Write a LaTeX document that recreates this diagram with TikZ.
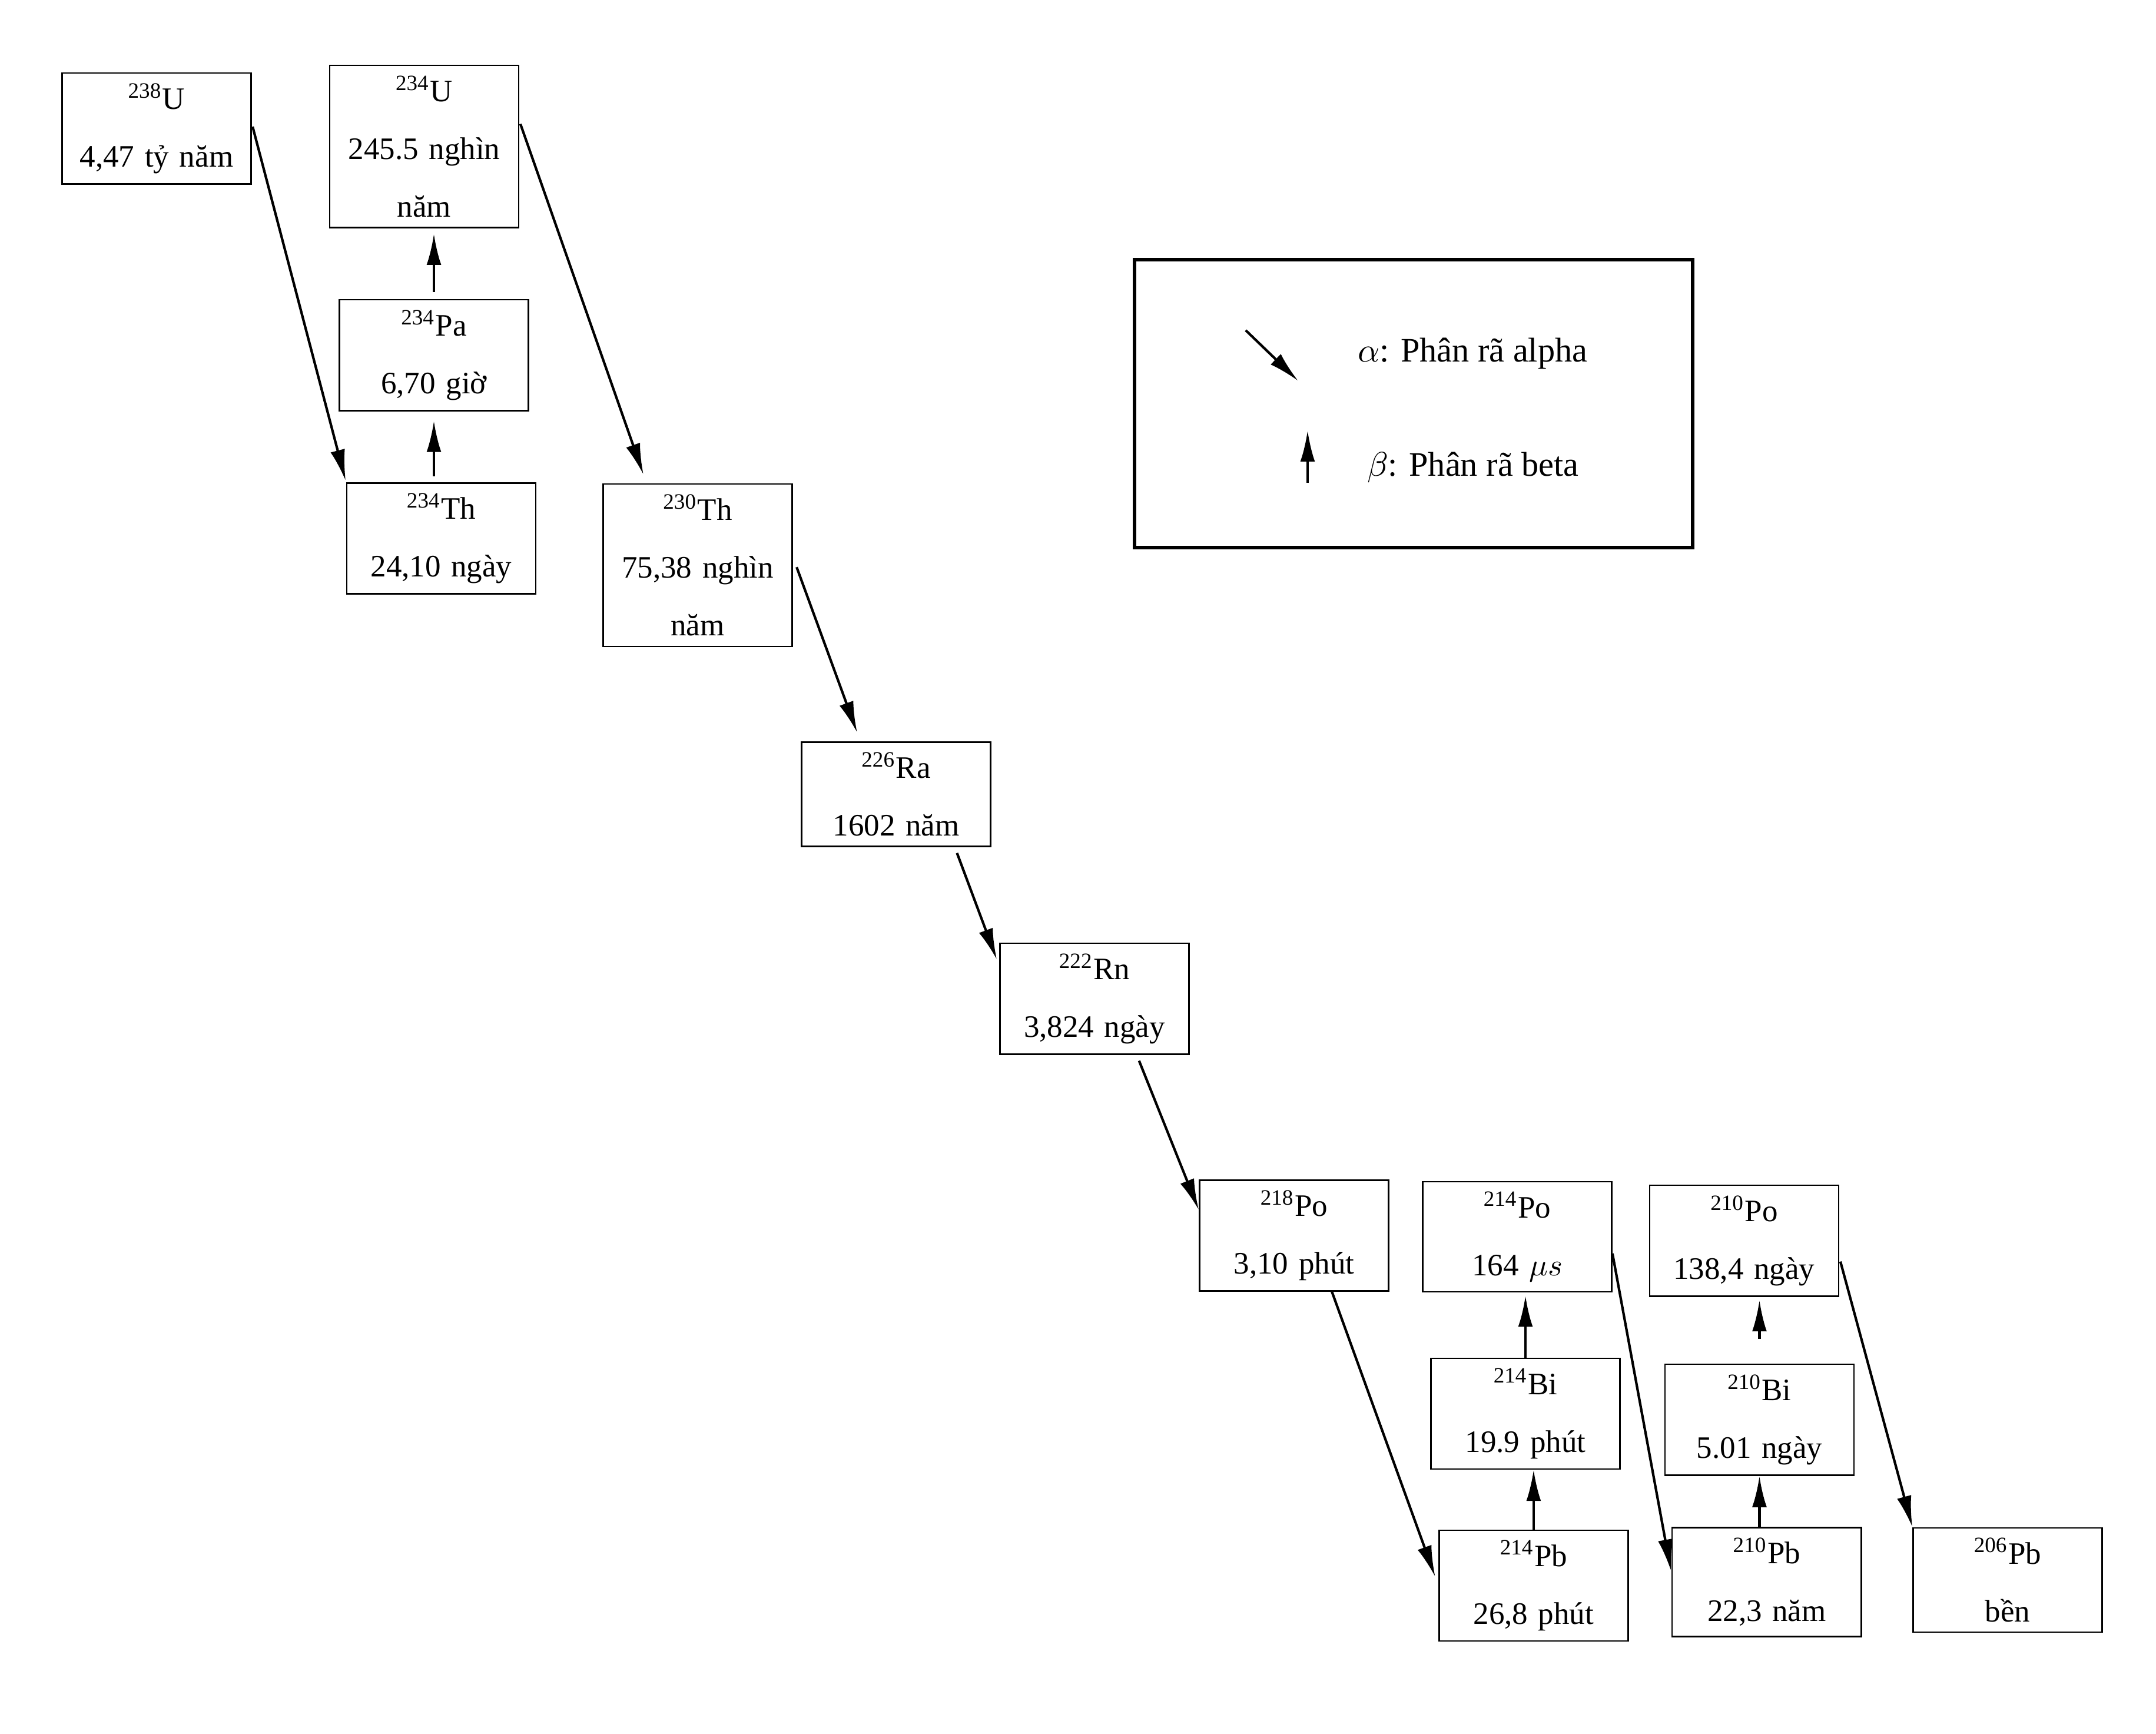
\documentclass[tikz,border=0pt]{standalone}
\usepackage{fontspec}
\setmainfont{Liberation Serif}
\usetikzlibrary{arrows.meta}

\begin{document}
\begin{tikzpicture}[>={Latex[length=10pt,width=4.7pt]},
    nuclide/.style={draw, line width=0.45pt, align=center, text width=58pt, inner xsep=1.3pt, inner ysep=3.3pt, font=\fontsize{10}{18.5}\selectfont},
    decay/.style={->, line width=0.8pt},
    legendbox/.style={draw, line width=1pt, minimum width=6.287cm, minimum height=3.243cm, inner sep=0pt, outer sep=0pt},
    legendtext/.style={anchor=west, inner sep=0pt, font=\fontsize{11}{13}\selectfont}]
    \useasboundingbox (0,0) rectangle (24.287,-19.531);
    % Nodes (uranium series)
    \node[nuclide] (U238) at (1.764,-1.449) {\textsuperscript{238}U\\4,47 tỷ năm};
    \node[nuclide] (U234) at (4.778,-1.651) {\textsuperscript{234}U\\245.5 nghìn\\năm};
    \node[nuclide] (Pa234) at (4.888,-4.002) {\textsuperscript{234}Pa\\6,70 giờ};
    \node[nuclide] (Th234) at (4.971,-6.065) {\textsuperscript{234}Th\\24,10 ngày};
    \node[nuclide] (Th230) at (7.859,-6.367) {\textsuperscript{230}Th\\75,38 nghìn\\năm};
    \node[nuclide] (Ra226) at (10.094,-8.947) {\textsuperscript{226}Ra\\1602 năm};
    \node[nuclide] (Rn222) at (12.329,-11.251) {\textsuperscript{222}Rn\\3,824 ngày};
    \node[nuclide] (Po218) at (14.577,-13.917) {\textsuperscript{218}Po\\3,10 phút};
    \node[nuclide] (Po214) at (17.091,-13.930) {\textsuperscript{214}Po\\164 $\mu s$};
    \node[nuclide] (Po210) at (19.647,-13.977) {\textsuperscript{210}Po\\138,4 ngày};
    \node[nuclide] (Bi214) at (17.184,-15.923) {\textsuperscript{214}Bi\\19.9 phút};
    \node[nuclide] (Bi210) at (19.820,-15.993) {\textsuperscript{210}Bi\\5.01 ngày};
    \node[nuclide] (Pb214) at (17.276,-17.860) {\textsuperscript{214}Pb\\26,8 phút};
    \node[nuclide] (Pb210) at (19.902,-17.820) {\textsuperscript{210}Pb\\22,3 năm};
    \node[nuclide] (Pb206) at (22.615,-17.797) {\textsuperscript{206}Pb\\bền};
    % Legend
    \node[legendbox] (legend) at (15.923,-4.546) {};
    \coordinate (la1) at (14.033,-3.721);
    \coordinate (la2) at (14.624,-4.291);
    \coordinate (lb1) at (14.730,-5.438);
    \coordinate (lb2) at (14.730,-4.848);
    \draw[decay] (la1) -- (la2);
    \draw[decay] (lb1) -- (lb2);
    \node[legendtext] (alphatext) at (15.287,-3.979) {$\alpha$: Phân rã alpha};
    \node[legendtext] (betatext) at (15.393,-5.266) {$\beta$: Phân rã beta};
    % Alpha decays
    \draw[decay, shorten <=1pt, shorten >=0.5pt] (U238.3) -- (Th234.north west);
    \draw[decay, shorten <=1pt, shorten >=3pt] (U234.15) -- (Th230.122);
    \draw[decay, shorten <=3.5pt, shorten >=3pt] (Th230.5) -- (Ra226.124);
    \draw[decay, shorten <=2pt, shorten >=2.2pt] (Ra226.-42) -- (Rn222.161);
    \draw[decay, shorten <=2pt] (Rn222.-53) -- (Po218.165);
    \draw[decay, shorten >=3pt] (Po218.-56) -- (Pb214.west);
    \draw[decay, shorten >=1pt] (Po214.-10) -- (Pb210.175);
    \draw[decay, shorten <=1.3pt] (Po210.-10) -- (Pb206.north west);
    % Beta decays
    \draw[decay, shorten <=2pt, shorten >=3pt] (Pa234.south |- Th234.north) -- (Pa234.south);
    \draw[decay, shorten <=2.3pt, shorten >=1.7pt] (Pa234.north) -- (Pa234.north |- U234.south);
    \draw[decay] (Pb214.north) -- (Pb214.north |- Bi214.south);
    \draw[decay, shorten >=1pt] (Bi214.north) -- (Bi214.north |- Po214.south);
    \draw[decay] (Bi210.south |- Pb210.north) -- (Bi210.south);
    \draw[decay, shorten <=8pt, shorten >=1pt] (Bi210.north) -- (Bi210.north |- Po210.south);
\end{tikzpicture}
\end{document}
